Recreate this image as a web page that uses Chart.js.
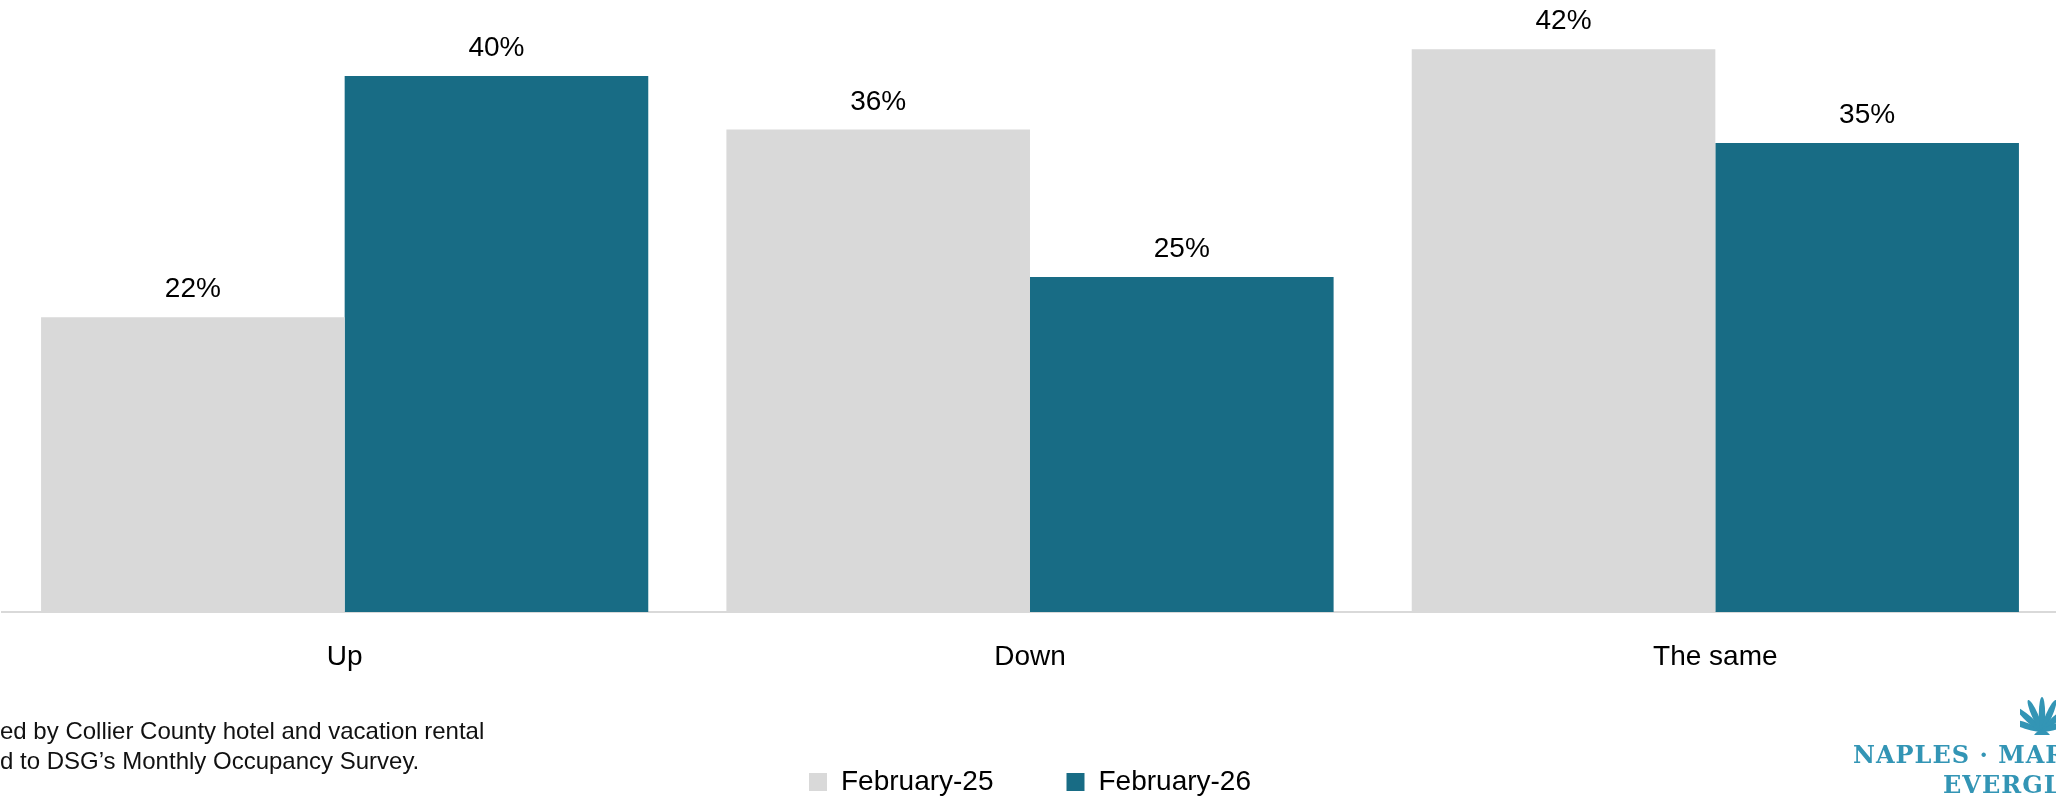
<!DOCTYPE html>
<html>
<head>
<meta charset="utf-8">
<title>Occupancy outlook</title>
<script src="https://cdn.jsdelivr.net/npm/chart.js@4.4.0/dist/chart.umd.min.js"></script>
<style>
  html, body { margin: 0; padding: 0; background: #fff; overflow: hidden; }
  body { width: 2056px; height: 798px; position: relative; font-family: "Liberation Sans", Arial, sans-serif; }
  .chart-wrap { position: absolute; left: 0; top: 0; width: 2058px; height: 806px; }
  .note { position: absolute; left: 0; top: 716px; font-size: 24px; line-height: 30px; color: #111; white-space: nowrap; }
  .logo { position: absolute; left: 1853px; top: 740px; font-family: "DejaVu Serif", serif; font-weight: bold;
          font-size: 24px; line-height: 30px; color: #3395b5; letter-spacing: 1px; white-space: nowrap; }
  .logo .l2 { padding-left: 90px; }
  .shell { position: absolute; left: 2020px; top: 694px; }
</style>
</head>
<body>
<div class="chart-wrap"><canvas id="occChart"></canvas></div>

<div class="note">ed by Collier County hotel and vacation rental<br>d to DSG’s Monthly Occupancy Survey.</div>

<svg class="shell" width="44" height="42" viewBox="0 0 44 42">
  <g fill="#3395b5">
    <ellipse cx="22" cy="20" rx="3.2" ry="17" transform="rotate(-72 22 37)"/>
    <ellipse cx="22" cy="20" rx="3.2" ry="17" transform="rotate(-48 22 37)"/>
    <ellipse cx="22" cy="20" rx="3.2" ry="17" transform="rotate(-24 22 37)"/>
    <ellipse cx="22" cy="20" rx="3.2" ry="17"/>
    <ellipse cx="22" cy="20" rx="3.2" ry="17" transform="rotate(24 22 37)"/>
    <ellipse cx="22" cy="20" rx="3.2" ry="17" transform="rotate(48 22 37)"/>
    <ellipse cx="22" cy="20" rx="3.2" ry="17" transform="rotate(72 22 37)"/>
    <path d="M14 41 Q22 31 30 41 Z"/>
  </g>
</svg>

<div class="logo">NAPLES · MAR<br><span class="l2">EVERGL</span></div>

<script>
const categories = ["Up", "Down", "The same"];
const seriesNames = ["February-25", "February-26"];
const feb25Values = [22, 36, 42];
const feb26Values = [40, 25, 35];
const seriesColors = ["#d9d9d9", "#186c85"];

const FONT = "'Liberation Sans', Arial, sans-serif";

// percent labels above every bar
const valueLabels = {
  id: "valueLabels",
  afterDatasetsDraw(chart) {
    const ctx = chart.ctx;
    ctx.save();
    ctx.font = "28px " + FONT;
    ctx.fillStyle = "#000";
    ctx.textAlign = "center";
    ctx.textBaseline = "alphabetic";
    chart.data.datasets.forEach((ds, i) => {
      chart.getDatasetMeta(i).data.forEach((bar, j) => {
        ctx.fillText(ds.data[j] + "%", bar.x, bar.y - 20);
      });
    });
    ctx.restore();
  }
};

const ctx = document.getElementById("occChart").getContext("2d");
new Chart(ctx, {
  type: "bar",
  data: {
    labels: categories,
    datasets: [
      { label: seriesNames[0], data: feb25Values, backgroundColor: seriesColors[0], borderWidth: 0 },
      { label: seriesNames[1], data: feb26Values, backgroundColor: seriesColors[1], borderWidth: 0 }
    ]
  },
  options: {
    responsive: true,
    maintainAspectRatio: false,
    animation: false,
    layout: { padding: { top: 9, left: 2, right: 0, bottom: 0 } },
    datasets: { bar: { categoryPercentage: 0.886, barPercentage: 1.0 } },
    plugins: {
      legend: {
        position: "bottom",
        labels: {
          boxWidth: 18,
          boxHeight: 18,
          padding: 73,
          color: "#000",
          font: { family: FONT, size: 28 }
        }
      },
      tooltip: { enabled: false }
    },
    scales: {
      x: {
        grid: { display: false, drawTicks: false },
        border: { color: "#d9d9d9", width: 2 },
        ticks: { padding: 28, color: "#000", font: { family: FONT, size: 28 } },
        afterFit(scale) { scale.height = 83; }
      },
      y: { display: false, min: 0, max: 45 }
    }
  },
  plugins: [valueLabels]
});
</script>
</body>
</html>
